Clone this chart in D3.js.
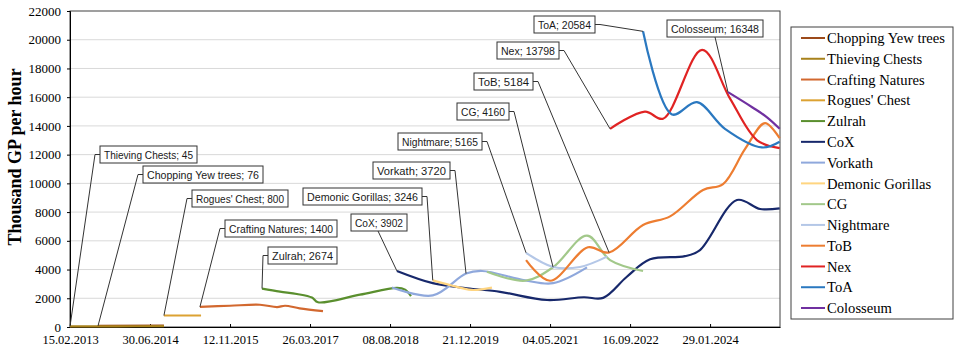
<!DOCTYPE html>
<html>
<head>
<meta charset="utf-8">
<script src="https://cdn.jsdelivr.net/npm/d3@7"></script>
<style>
  body { margin: 0; background: #fff; }
  svg text { font-family: "Liberation Serif", "Times New Roman", serif; fill: #000; }
  .callout text { font-family: "Liberation Sans", Arial, sans-serif; font-size: 11.5px; fill: #1a1a1a; }
</style>
</head>
<body>
<script>
// ---- data ----
const seriesNames = [
  'Chopping Yew trees', 'Thieving Chests', 'Crafting Natures', "Rogues' Chest", 'Zulrah',
  'CoX', 'Vorkath', 'Demonic Gorillas', 'CG', 'Nightmare', 'ToB', 'Nex', 'ToA', 'Colosseum'
];
const seriesColors = [
  '#9c4a1a', '#a8821c', '#d2682f', '#dca232', '#5a8f2e',
  '#17286b', '#8fa8dc', '#ffd580', '#a2c88a', '#b4c7e7', '#ed7d31', '#e02323', '#2a78c0', '#7030a0'
];

const choppingYew = [['2013-08-09', 76], ['2014-09-25', 90]];
const thievingChests = [['2013-02-15', 45], ['2013-12-01', 50], ['2014-09-25', 60]];
const craftingNatures = [['2015-05-08', 1400], ['2015-11-12', 1480], ['2016-05-17', 1550],
  ['2016-09-01', 1390], ['2016-10-21', 1480], ['2017-01-20', 1300], ['2017-06-15', 1110]];
const roguesChest = [['2014-09-25', 800], ['2015-05-15', 800]];
const zulrah = [['2016-05-30', 2674], ['2016-09-19', 2460], ['2017-01-03', 2300], ['2017-04-07', 2050],
  ['2017-05-15', 1720], ['2018-02-01', 2250], ['2018-09-21', 2720], ['2018-11-10', 2600], ['2018-12-17', 2150]];
const cox = [['2018-09-20', 3902], ['2019-05-02', 3050], ['2019-12-01', 2700], ['2020-06-26', 2450],
  ['2021-04-15', 1880], ['2021-12-01', 2070], ['2022-04-01', 2030], ['2022-08-27', 3500],
  ['2023-01-19', 4710], ['2023-08-25', 4930], ['2023-11-27', 5360], ['2024-07-15', 8840],
  ['2024-12-07', 8215], ['2025-04-08', 8260]];
const vorkath = [['2018-08-20', 2750], ['2019-05-02', 2200], ['2019-11-26', 3720], ['2020-03-05', 3900],
  ['2020-11-29', 3250], ['2021-05-23', 3050], ['2021-12-21', 4150]];
const demonicGorillas = [['2019-05-02', 3246], ['2019-08-18', 2920], ['2019-12-31', 2580], ['2020-05-06', 2740]];
const cg = [['2020-04-05', 3850], ['2020-11-29', 3220], ['2021-05-23', 4160], ['2021-12-21', 6360],
  ['2022-05-14', 4660], ['2022-12-06', 3900]];
const nightmare = [['2020-12-05', 5165], ['2021-05-23', 4180], ['2021-11-07', 4180], ['2022-04-25', 4900]];
const tob = [['2020-12-05', 4660], ['2021-05-04', 3220], ['2021-12-27', 5550], ['2022-05-08', 5184],
  ['2022-12-06', 7100], ['2023-05-24', 7700], ['2023-12-16', 9540], ['2024-04-19', 9950],
  ['2024-09-04', 12400], ['2025-01-07', 14200], ['2025-04-08', 13150]];
const nex = [['2022-05-14', 13798], ['2022-12-18', 15000], ['2023-04-10', 14500], ['2023-12-10', 19300],
  ['2024-06-02', 15900], ['2024-11-18', 13000], ['2025-04-08', 12450]];
const toa = [['2022-12-06', 20584], ['2023-06-05', 14800], ['2023-11-08', 15650], ['2024-05-01', 13800],
  ['2024-12-18', 12500], ['2025-04-08', 12900]];
const colosseum = [['2024-05-20', 16348], ['2024-10-18', 15300], ['2025-01-19', 14600], ['2025-04-08', 13800]];

const seriesData = [choppingYew, thievingChests, craftingNatures, roguesChest, zulrah, cox, vorkath,
  demonicGorillas, cg, nightmare, tob, nex, toa, colosseum];
// which point of each series carries the data label
const labelIndex = [0, 0, 0, 0, 0, 0, 2, 0, 2, 0, 3, 0, 0, 0];

const xTickLabels = ['15.02.2013', '30.06.2014', '12.11.2015', '26.03.2017', '08.08.2018',
  '21.12.2019', '04.05.2021', '16.09.2022', '29.01.2024'];
const yTickValues = [0, 2000, 4000, 6000, 8000, 10000, 12000, 14000, 16000, 18000, 20000, 22000];
const xDomain = ['2013-02-15', '2025-04-10'];

// callout box layout (pixels), same order as the series
const calloutBoxes = [
  { x: 143, y: 166, w: 120, side: 'left' },
  { x: 100, y: 146, w: 97, side: 'left' },
  { x: 225, y: 220, w: 112, side: 'left' },
  { x: 192, y: 190, w: 96, side: 'left' },
  { x: 268, y: 247, w: 69, side: 'left' },
  { x: 351, y: 214, w: 56, side: 'bottom', ax: 27 },
  { x: 373, y: 162, w: 77, side: 'right' },
  { x: 303, y: 188, w: 119, side: 'right' },
  { x: 457, y: 103, w: 52, side: 'right' },
  { x: 398, y: 133, w: 84, side: 'right' },
  { x: 474, y: 73, w: 59, side: 'right' },
  { x: 497, y: 42, w: 62, side: 'right' },
  { x: 534, y: 16, w: 61, side: 'right' },
  { x: 667, y: 20, w: 96, side: 'bottom', ax: 48 }
];

// ---- layout ----
const width = 960, height = 352;
const margin = { left: 70, right: 180, top: 11, bottom: 25 };
const serif = '"Liberation Serif", "Times New Roman", serif';
const parse = d3.utcParse('%Y-%m-%d');
const parseTick = d3.utcParse('%d.%m.%Y');

const svg = d3.select('body').append('svg')
  .attr('width', width)
  .attr('height', height);

const x = d3.scaleUtc()
  .domain(xDomain.map(parse))
  .range([margin.left, width - margin.right]);

const y = d3.scaleLinear()
  .domain([0, 22000])
  .range([height - margin.bottom, margin.top]);

// gridlines
svg.append('g')
  .selectAll('line')
  .data(yTickValues.filter(v => v > 0 && v < 22000))
  .join('line')
  .attr('x1', x.range()[0]).attr('x2', x.range()[1])
  .attr('y1', d => y(d)).attr('y2', d => y(d))
  .attr('stroke', '#d9d9d9').attr('stroke-width', 1);

// plot frame
svg.append('rect')
  .attr('x', x.range()[0]).attr('y', y(22000))
  .attr('width', x.range()[1] - x.range()[0])
  .attr('height', y(0) - y(22000))
  .attr('fill', 'none').attr('stroke', '#404040').attr('stroke-width', 1);

// y axis
const yAxis = svg.append('g')
  .attr('transform', `translate(${x.range()[0]},0)`)
  .call(d3.axisLeft(y).tickValues(yTickValues).tickSize(3).tickFormat(d3.format('d')));
yAxis.select('.domain').attr('stroke', '#000');
yAxis.selectAll('.tick line').attr('stroke', '#000');
yAxis.selectAll('text').attr('font-size', 13).attr('font-family', serif).attr('x', -9);

// x axis
const xAxis = svg.append('g')
  .attr('transform', `translate(0,${y(0)})`)
  .call(d3.axisBottom(x).tickValues(xTickLabels.map(parseTick)).tickSizeInner(-3).tickSizeOuter(0)
    .tickFormat(d3.utcFormat('%d.%m.%Y')));
xAxis.select('.domain').attr('stroke', '#000');
xAxis.selectAll('.tick line').attr('stroke', '#000');
xAxis.selectAll('text').attr('font-size', 12.5).attr('font-family', serif).attr('y', 8);

// y title
svg.append('text')
  .attr('transform', 'translate(21,157) rotate(-90)')
  .attr('text-anchor', 'middle')
  .attr('font-family', serif)
  .attr('font-size', 18)
  .attr('font-weight', 'bold')
  .text('Thousand GP per hour');

// lines
const line = d3.line()
  .x(d => x(parse(d[0])))
  .y(d => y(d[1]))
  .curve(d3.curveCatmullRom.alpha(0.5));

svg.append('g')
  .selectAll('path')
  .data(seriesData)
  .join('path')
  .attr('d', line)
  .attr('fill', 'none')
  .attr('stroke', (d, i) => seriesColors[i])
  .attr('stroke-width', 2.2)
  .attr('stroke-linejoin', 'round');

// callouts
const boxH = 17;
const callouts = svg.append('g').attr('class', 'callout')
  .selectAll('g')
  .data(seriesData.map((s, i) => ({ point: s[labelIndex[i]], name: seriesNames[i], box: calloutBoxes[i] })))
  .join('g');

callouts.append('polyline')
  .attr('points', d => {
    const b = d.box, px = x(parse(d.point[0])), py = y(d.point[1]);
    const mid = b.y + boxH / 2;
    if (b.side === 'left') return `${b.x},${mid} ${b.x - 5},${mid} ${px},${py}`;
    if (b.side === 'right') return `${b.x + b.w},${mid} ${b.x + b.w + 5},${mid} ${px},${py}`;
    return `${b.x + b.ax},${b.y + boxH} ${px},${py}`;
  })
  .attr('fill', 'none')
  .attr('stroke', '#333')
  .attr('stroke-width', 1);

callouts.append('rect')
  .attr('x', d => d.box.x).attr('y', d => d.box.y)
  .attr('width', d => d.box.w).attr('height', boxH)
  .attr('fill', '#fff').attr('stroke', '#333').attr('stroke-width', 1);

callouts.append('text')
  .attr('x', d => d.box.x + 4)
  .attr('y', d => d.box.y + boxH / 2)
  .attr('dy', '0.35em')
  .attr('textLength', d => d.box.w - 8)
  .attr('lengthAdjust', 'spacingAndGlyphs')
  .text(d => `${d.name}; ${d.point[1]}`);

// legend
const legend = svg.append('g');
legend.append('rect')
  .attr('x', 791).attr('y', 27).attr('width', 162).attr('height', 292)
  .attr('fill', '#fff').attr('stroke', '#404040').attr('stroke-width', 1);

const legendY = d3.scalePoint().domain(seriesNames).range([38, 308]);
const items = legend.selectAll('g.item')
  .data(seriesNames)
  .join('g')
  .attr('class', 'item')
  .attr('transform', d => `translate(801,${legendY(d)})`);

items.append('line')
  .attr('x1', 0).attr('x2', 24)
  .attr('stroke', (d, i) => seriesColors[i])
  .attr('stroke-width', 2);

items.append('text')
  .attr('x', 26)
  .attr('dy', '0.35em')
  .attr('font-family', serif)
  .attr('font-size', 14.6)
  .text(d => d);
</script>
</body>
</html>
